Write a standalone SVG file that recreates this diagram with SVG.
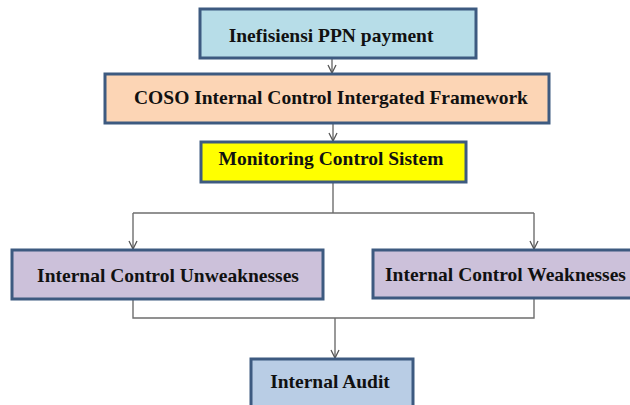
<svg xmlns="http://www.w3.org/2000/svg" width="630" height="405" viewBox="0 0 630 405">
<defs>
<marker id="arr" viewBox="0 0 10 10" refX="9" refY="5" markerWidth="10" markerHeight="10" markerUnits="userSpaceOnUse" orient="auto">
<path d="M1,1 L9,5 L1,9" fill="none" stroke="#555" stroke-width="1.3"/>
</marker>
<style>
.box{stroke:#3d5a80;stroke-width:3}
.t{font-family:"Liberation Serif","Times New Roman",serif;font-weight:bold;font-size:19.5px;fill:#111;text-anchor:middle}
.c{fill:none;stroke:#6e6e6e;stroke-width:1.4}
</style>
</defs>
<rect width="630" height="405" fill="#fff"/>
<g id="connectors">
<line class="c" x1="332" y1="59" x2="332" y2="73" marker-end="url(#arr)"/>
<line class="c" x1="333" y1="124" x2="333" y2="141" marker-end="url(#arr)"/>
<polyline class="c" points="333,183 333,213"/>
<polyline class="c" points="133,213 534,213"/>
<line class="c" x1="133" y1="213" x2="133" y2="249" marker-end="url(#arr)"/>
<line class="c" x1="534" y1="213" x2="534" y2="249" marker-end="url(#arr)"/>
<polyline class="c" points="133,300 133,318 534,318 534,299"/>
<line class="c" x1="335" y1="318" x2="335" y2="358" marker-end="url(#arr)"/>
</g>
<g id="n1">
<rect class="box" x="200" y="9" width="276" height="49" fill="#b7dde8"/>
<text class="t" x="331" y="42">Inefisiensi PPN payment</text>
</g>
<g id="n2">
<rect class="box" x="105" y="74" width="444" height="49" fill="#fcd5b5"/>
<text class="t" x="331" y="104">COSO Internal Control Intergated Framework</text>
</g>
<g id="n3">
<rect class="box" x="201" y="142" width="265" height="40" fill="#ffff00"/>
<text class="t" x="331" y="165">Monitoring Control Sistem</text>
</g>
<g id="n4">
<rect class="box" x="12" y="250" width="311" height="49" fill="#ccc1da"/>
<text class="t" x="168" y="282">Internal Control Unweaknesses</text>
</g>
<g id="n5">
<rect class="box" x="373" y="250" width="270" height="48" fill="#ccc1da"/>
<text class="t" x="385" y="281" style="text-anchor:start">Internal Control Weaknesses</text>
</g>
<g id="n6">
<rect class="box" x="251" y="359" width="162" height="60" fill="#b9cde5"/>
<text class="t" x="330" y="388">Internal Audit</text>
</g>
</svg>
